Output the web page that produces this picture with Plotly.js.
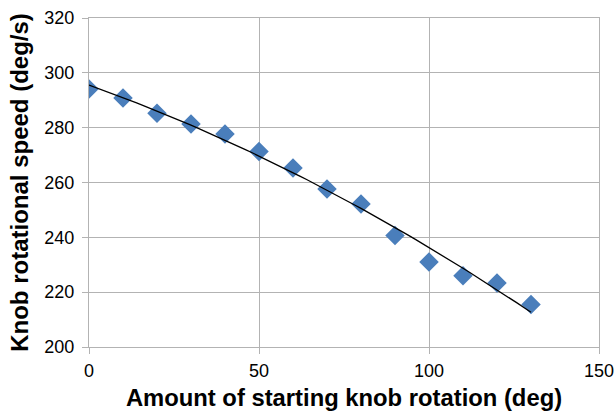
<!DOCTYPE html>
<html><head><meta charset="utf-8">
<script src="https://cdn.plot.ly/plotly-3.0.1.min.js"></script>
<style>body{margin:0}#c{width:615px;height:417px}</style>
</head><body><div id="c"></div>
<script>
var rotation = [0,10,20,30,40,50,60,70,80,90,100,110,120,130];
var speed = [294.1,290.8,285.3,281.3,277.7,271.3,265.3,257.6,252.2,240.7,231.0,226.0,223.3,215.5];

// Excel-style 2nd-order polynomial trendline (least squares)
function polyfit2(x,y){
  var n=x.length,S=[0,0,0,0,0],T=[0,0,0];
  for(var i=0;i<n;i++){var p=1;for(var k=0;k<5;k++){S[k]+=p;if(k<3)T[k]+=p*y[i];p*=x[i];}}
  var A=[[S[0],S[1],S[2],T[0]],[S[1],S[2],S[3],T[1]],[S[2],S[3],S[4],T[2]]];
  for(var c=0;c<3;c++){for(var r=c+1;r<3;r++){var f=A[r][c]/A[c][c];for(var j=c;j<4;j++)A[r][j]-=f*A[c][j];}}
  var s=[0,0,0];
  for(var r=2;r>=0;r--){var v=A[r][3];for(var j=r+1;j<3;j++)v-=A[r][j]*s[j];s[r]=v/A[r][r];}
  return s;
}
var coef = polyfit2(rotation,speed);
var tx=[],ty=[];
for(var i=0;i<=130;i+=2){tx.push(i);ty.push(coef[0]+coef[1]*i+coef[2]*i*i);}

var grid='#b3b3b3';
Plotly.newPlot('c',[
  {x:rotation,y:speed,mode:'markers',type:'scatter',
   marker:{symbol:'diamond',size:15,color:'#4a7ebb'}},
  {x:tx,y:ty,mode:'lines',type:'scatter',line:{color:'#000',width:1.3}}
],{
  width:615,height:417,showlegend:false,
  margin:{l:89,r:16,t:18,b:70},
  paper_bgcolor:'#fff',plot_bgcolor:'#fff',
  font:{family:'Liberation Sans, Arial, sans-serif',size:18,color:'#000'},
  xaxis:{range:[0,150],dtick:50,showgrid:true,gridcolor:grid,gridwidth:1,
    showline:true,linecolor:grid,mirror:true,ticks:'outside',ticklen:6,tickcolor:grid,
    zeroline:false,ticklabelstandoff:1,
    title:{text:'<b>Amount of starting knob rotation (deg)</b>',font:{size:23.8},standoff:9}},
  yaxis:{range:[200,320],dtick:20,showgrid:true,gridcolor:grid,gridwidth:1,
    showline:true,linecolor:grid,mirror:true,ticks:'outside',ticklen:6,tickcolor:grid,
    zeroline:false,ticklabelstandoff:4,
    title:{text:'<b>Knob rotational speed (deg/s)</b>',font:{size:24},standoff:8}}
},{staticPlot:true});
</script></body></html>
